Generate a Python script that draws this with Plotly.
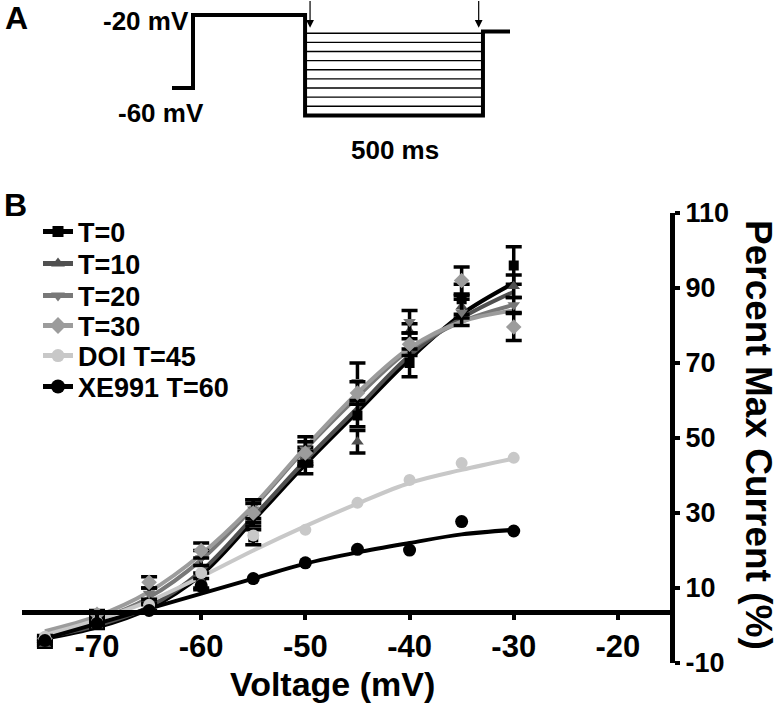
import plotly.graph_objects as go

# ---------------- data ----------------
V = [-75, -70, -65, -60, -55, -50, -45, -40, -35, -30]

T0 = [-4.5, 0.5, 4.5, 11.0, 23.5, 43.5, 56.0, 70.0, 87.0, 96.0]
T0_err = [0.8, 0.8, 1.0, 1.5, 2.0, 3.0, 3.0, 3.7, 4.0, 5.0]
T0_fit = [-3.5, -0.5, 4.5, 13.5, 28.0, 43.0, 57.0, 71.0, 83.0, 91.3]

T10 = [-5.0, 0.0, 5.0, 12.0, 30.0, 45.0, 49.0, 78.5, 85.0, 90.5]
T10_err = [0.8, 0.8, 1.0, 2.0, 3.5, 2.5, 3.0, 2.0, 3.0, 3.0]
T10_fit = [-3.0, 0.0, 5.0, 14.5, 29.0, 44.0, 58.0, 72.0, 82.0, 89.0]

T20 = [-4.0, 1.5, 8.5, 18.0, 31.0, 47.0, 65.0, 81.0, 83.5, 85.5]
T20_err = [0.8, 1.0, 1.5, 2.0, 2.5, 3.3, 5.0, 3.0, 3.5, 2.0]
T20_fit = [-2.0, 1.5, 7.5, 17.5, 31.5, 47.0, 61.0, 73.5, 81.0, 85.5]

T30 = [-3.5, 3.0, 11.5, 20.0, 30.0, 46.0, 62.0, 75.0, 92.0, 79.6]
T30_err = [0.8, 1.0, 1.5, 2.0, 2.5, 3.0, 3.0, 3.0, 3.6, 3.6]
T30_fit = [-1.5, 2.5, 9.0, 19.0, 32.0, 47.5, 62.0, 74.0, 81.0, 84.0]

DOI = [-3.0, 1.0, 5.5, 14.0, 24.0, 25.5, 32.7, 38.8, 43.3, 44.7]
DOI_fit = [-2.5, 1.5, 6.5, 13.0, 20.0, 26.5, 32.5, 38.0, 41.5, 44.5]

XE991 = [-4.0, 0.5, 4.0, 10.5, 12.5, 16.7, 20.3, 20.1, 27.7, 25.2]
XE991_fit = [-3.5, 0.5, 4.5, 8.5, 12.5, 16.5, 19.5, 22.0, 24.3, 25.5]

LEGEND = ["T=0", "T=10", "T=20", "T=30", "DOI T=45", "XE991 T=60"]

X_TICKS = [-70, -60, -50, -40, -30, -20]
Y_TICKS = [-10, 10, 30, 50, 70, 90, 110]

# voltage protocol (panel A)
PROTO_T = [0, 59, 59, 374, 374, 874, 874, 950]
PROTO_V = [-60, -60, -20, -20, -75, -75, -29, -29]
STEP_START, STEP_END = 374, 874
ARROW_T = [388, 862]

# ---------------- layout geometry ----------------
W, H = 779, 706
PX_L, PX_R = 22, 670
PX_T, PX_B = 213, 663
X_RANGE = [-77.2, -15.0]
Y_RANGE = [-10, 110]
X_CROSS = 3.6

def px(x):
    return x / W

def py(y):
    return 1 - y / H

xdom = [px(PX_L), px(PX_R)]
ydom = [py(PX_B), py(PX_T)]
xpos = ydom[0] + (X_CROSS - Y_RANGE[0]) / (Y_RANGE[1] - Y_RANGE[0]) * (ydom[1] - ydom[0])

FONT = "Liberation Sans, Arial, Helvetica, sans-serif"

styles = [
    (T0, T0_err, T0_fit, "#000000", "square", 10),
    (T10, T10_err, T10_fit, "#505050", "triangle-up", 11),
    (T20, T20_err, T20_fit, "#787878", "triangle-down", 11),
    (T30, T30_err, T30_fit, "#9c9c9c", "diamond", 12),
    (DOI, None, DOI_fit, "#c8c8c8", "circle", 12),
    (XE991, None, XE991_fit, "#000000", "circle", 13),
]

fig = go.Figure()

# fits
for vals, err, fit, col, sym, ms in styles:
    fig.add_trace(go.Scatter(x=V, y=fit, mode="lines", line=dict(color=col, width=4, shape="spline"),
                             showlegend=False, hoverinfo="skip"))
# data points
for vals, err, fit, col, sym, ms in styles:
    kw = {}
    if err is not None:
        kw["error_y"] = dict(type="data", array=err, color="black", thickness=3.5, width=8)
    fig.add_trace(go.Scatter(x=V, y=vals, mode="markers",
                             marker=dict(symbol=sym, size=ms, color=col),
                             showlegend=False, **kw))

# legend-only traces, each in its own legend to control spacing
leg_y = [232, 264, 296, 326, 356, 387]
for i, ((vals, err, fit, col, sym, ms), name) in enumerate(zip(styles, LEGEND)):
    lname = "legend" if i == 0 else f"legend{i+1}"
    fig.add_trace(go.Scatter(x=[None], y=[None], mode="lines+markers", name=name,
                             line=dict(color=col, width=5),
                             marker=dict(symbol=sym, size=ms + 1, color=col),
                             legend=lname))

# panel A protocol
fig.add_trace(go.Scatter(x=PROTO_T, y=PROTO_V, mode="lines", line=dict(color="black", width=4),
                         xaxis="x2", yaxis="y2", showlegend=False, hoverinfo="skip"))
for lvl in V[1:]:
    fig.add_trace(go.Scatter(x=[STEP_START, STEP_END], y=[lvl, lvl], mode="lines",
                             line=dict(color="black", width=1.4),
                             xaxis="x2", yaxis="y2", showlegend=False, hoverinfo="skip"))

annotations = []
for t in ARROW_T:
    annotations.append(dict(x=t, y=-27, ax=t, ay=-11.5, xref="x2", yref="y2", axref="x2", ayref="y2",
                            showarrow=True, arrowhead=2, arrowsize=1.3, arrowwidth=1.2, arrowcolor="black",
                            text=""))

def txt(s, x, y, size, xanchor="center", yanchor="middle", angle=0):
    return dict(text=s, x=px(x), y=py(y), xref="paper", yref="paper", showarrow=False,
                xanchor=xanchor, yanchor=yanchor, textangle=angle,
                font=dict(family=FONT, size=size, color="black", weight="bold"))

annotations += [
    txt("A", 3, 18, 32, xanchor="left"),
    txt("B", 2, 205, 32, xanchor="left"),
    txt("-20 mV", 191, 21, 26, xanchor="right"),
    txt("-60 mV", 206, 113, 26, xanchor="right"),
    txt("500 ms", 395, 150, 26),
    txt("Voltage (mV)", 332, 684, 34),
    txt("Percent Max Current (%)", 759, 435, 37, angle=90),
]

legends = {}
for i in range(6):
    lname = "legend" if i == 0 else f"legend{i+1}"
    legends[lname] = dict(x=px(38), y=py(leg_y[i]), xanchor="left", yanchor="middle",
                          bgcolor="rgba(0,0,0,0)", borderwidth=0, itemwidth=30,
                          font=dict(family=FONT, size=27, color="black", weight="bold"))

fig.update_layout(
    width=W, height=H, margin=dict(l=0, r=0, t=0, b=0, pad=0, autoexpand=False),
    paper_bgcolor="white", plot_bgcolor="white",
    annotations=annotations,
    xaxis=dict(domain=xdom, range=X_RANGE, anchor="free", position=xpos,
               tickvals=X_TICKS, ticktext=[str(v) for v in X_TICKS],
               showline=True, linewidth=5, linecolor="black",
               ticks="outside", ticklen=5, tickwidth=4, tickcolor="black",
               showgrid=False, zeroline=False, automargin=False,
               tickfont=dict(family=FONT, size=31, color="black", weight="bold")),
    yaxis=dict(domain=ydom, range=Y_RANGE, anchor="x", side="right",
               tickvals=Y_TICKS, ticktext=[str(v) for v in Y_TICKS],
               showline=True, linewidth=5, linecolor="black",
               ticks="outside", ticklen=5, tickwidth=4, tickcolor="black",
               showgrid=False, zeroline=False, automargin=False,
               tickfont=dict(family=FONT, size=27, color="black", weight="bold")),
    xaxis2=dict(domain=[px(172), px(510)], range=[0, 950], visible=False, anchor="y2"),
    yaxis2=dict(domain=[py(124.5), py(5.9)], range=[-80, -15], visible=False, anchor="x2"),
    **legends,
)

fig.write_html("out.html", config={"displayModeBar": False},
               post_script="document.body.style.margin='0px';document.body.style.overflow='hidden';")
